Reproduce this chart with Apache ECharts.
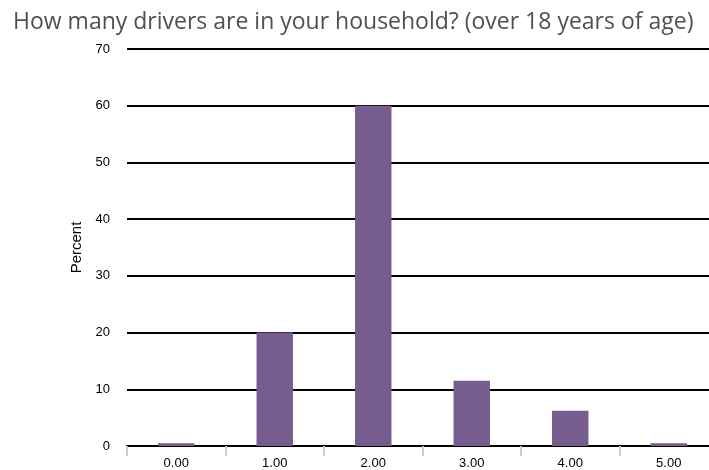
<!DOCTYPE html>
<html>
<head>
<meta charset="utf-8">
<script src="https://cdn.jsdelivr.net/npm/echarts@6/dist/echarts.min.js"></script>
<style>
  html, body { margin: 0; padding: 0; background: #fff; }
  #chart { width: 709px; height: 470px; }
</style>
</head>
<body>
<div id="chart"></div>
<script>
// drivers over 18 in household
const categories = ["0.00", "1.00", "2.00", "3.00", "4.00", "5.00"];
const percents = [0.5, 20, 60, 11.5, 6.2, 0.5];
const yTicks = [0, 10, 20, 30, 40, 50, 60, 70];

const chart = echarts.init(document.getElementById("chart"));
chart.setOption({
  animation: false,
  title: {
    text: "How many drivers are in your household? (over 18 years of age)",
    left: 8,
    top: 6,
    textStyle: {
      fontFamily: "Open Sans",
      fontSize: 23,
      fontWeight: 500,
      color: "#505050",
    },
  },
  grid: {
    left: 127,
    top: 49,
    right: -9,
    bottom: 24,
    containLabel: false,
    outerBoundsMode: "none",
  },
  xAxis: {
    type: "category",
    data: categories,
    axisLine: { lineStyle: { color: "#000", width: 2 } },
    axisTick: { show: true, length: 10, lineStyle: { color: "#c8c8e0", width: 2 } },
    axisLabel: {
      color: "#000",
      fontFamily: "Liberation Sans",
      fontSize: 13,
      margin: 11,
    },
  },
  yAxis: {
    type: "value",
    min: yTicks[0],
    max: yTicks[yTicks.length - 1],
    interval: 10,
    name: "Percent",
    nameLocation: "middle",
    nameGap: 39,
    nameTextStyle: { color: "#000", fontFamily: "Liberation Sans", fontSize: 15 },
    axisLine: { show: false },
    axisTick: { show: false },
    axisLabel: {
      color: "#000",
      fontFamily: "Liberation Sans",
      fontSize: 13,
      margin: 17,
    },
    splitLine: { lineStyle: { color: "#000", width: 2 } },
  },
  series: [
    {
      type: "bar",
      data: percents,
      barWidth: "37%",
      itemStyle: { color: "#775d8f" },
    },
  ],
});
</script>
</body>
</html>
